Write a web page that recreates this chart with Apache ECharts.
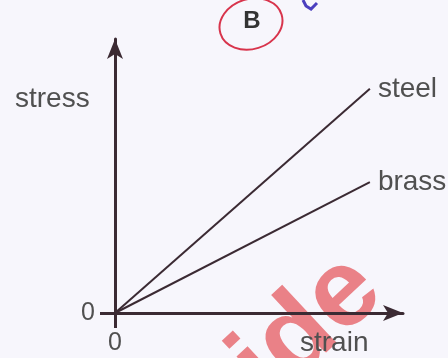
<!DOCTYPE html>
<html>
<head>
<meta charset="utf-8">
<script src="https://cdn.jsdelivr.net/npm/echarts@6/dist/echarts.min.js"></script>
<style>
html,body{margin:0;padding:0;background:#f7f6fc;}
#chart{width:448px;height:358px;}
</style>
</head>
<body>
<div id="chart"></div>
<script>
// Data (arbitrary units)
const seriesNames = ['steel', 'brass'];
const steelPoints = [[0, 0], [8.85, 8.18]];
const brassPoints = [[0, 0], [8.85, 4.78]];
const tickLabels = [0];
const axisNames = ['strain', 'stress'];

const lineColor = '#3b2a33';
const textColor = '#505050';
const font = 'Liberation Sans';

const chart = echarts.init(document.getElementById('chart'), null, {renderer: 'canvas'});
chart.setOption({
  backgroundColor: '#f7f6fc',
  animation: false,
  grid: {left: 115, right: 45, top: 39, bottom: 45, containLabel: false},
  xAxis: {
    type: 'value', min: 0, max: 10,
    splitLine: {show: false},
    axisLine: {show: true, symbol: ['none', 'arrow'], symbolSize: [12, 20], symbolOffset: [0, 0],
      lineStyle: {color: lineColor, width: 3}},
    axisTick: {show: true, customValues: tickLabels, length: 15, inside: false, lineStyle: {color: lineColor, width: 3}},
    axisLabel: {show: true, customValues: tickLabels, margin: 18, color: textColor, fontSize: 25, fontFamily: font}
  },
  yAxis: {
    type: 'value', min: 0, max: 10,
    splitLine: {show: false},
    axisLine: {show: true, symbol: ['none', 'arrow'], symbolSize: [12, 20], symbolOffset: [0, 0],
      lineStyle: {color: lineColor, width: 3}},
    axisTick: {show: true, customValues: tickLabels, length: 15, lineStyle: {color: lineColor, width: 3}},
    axisLabel: {show: true, customValues: tickLabels, margin: 20, color: textColor, fontSize: 25, fontFamily: font}
  },
  series: [
    {name: seriesNames[0], type: 'line', data: steelPoints, symbol: 'none',
     lineStyle: {color: lineColor, width: 2},
     endLabel: {show: true, formatter: '{a}', distance: 8, color: textColor, fontSize: 28, fontFamily: font}},
    {name: seriesNames[1], type: 'line', data: brassPoints, symbol: 'none',
     lineStyle: {color: lineColor, width: 2},
     endLabel: {show: true, formatter: '{a}', distance: 8, color: textColor, fontSize: 28, fontFamily: font}}
  ],
  graphic: [
    {type: 'text', x: 308, y: 328, rotation: 0.75, z: -1,
     style: {text: 'ide', fill: 'rgba(228,80,85,0.7)', font: 'bold 110px "Liberation Sans"', textAlign: 'center', textVerticalAlign: 'middle'}},
    {type: 'text', x: 15, y: 99, style: {text: axisNames[1], fill: textColor, font: '28px "Liberation Sans"', textVerticalAlign: 'middle'}},
    {type: 'text', x: 300, y: 343, style: {text: axisNames[0], fill: textColor, font: '28px "Liberation Sans"', textVerticalAlign: 'middle'}},
    {type: 'ellipse', shape: {cx: 251, cy: 24, rx: 32, ry: 25}, rotation: 0.3, originX: 251, originY: 24,
     style: {fill: 'none', stroke: '#d8344c', lineWidth: 2}},
    {type: 'text', x: 252, y: 21, style: {text: 'B', fill: '#333', font: 'bold 24px "Liberation Sans"', textAlign: 'center', textVerticalAlign: 'middle'}},
    {type: 'polyline', shape: {points: [[303, 0], [306, 6], [311, 9], [317, 3]]}, style: {stroke: '#4b3fbf', lineWidth: 3, fill: 'none'}}
  ]
});
</script>
</body>
</html>
